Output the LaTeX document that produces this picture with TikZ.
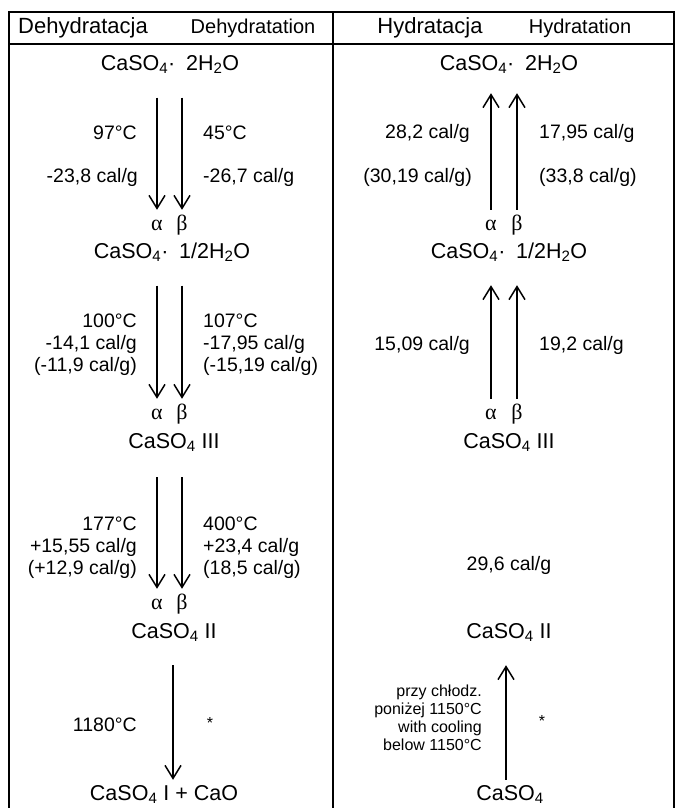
\documentclass[tikz,border=0pt]{standalone}
\usepackage{fontspec}
\setmainfont{Liberation Sans}
\newfontfamily\greekfont{Liberation Serif}
\usepackage{tikz}
\usetikzlibrary{arrows.meta}

\begin{document}
\begin{tikzpicture}[x=1pt, y=-1pt,
    head/.style={inner sep=0pt, font=\fontsize{22}{26}\selectfont},
    subhead/.style={inner sep=0pt, font=\fontsize{20}{24}\selectfont},
    formula/.style={inner sep=0pt, text height=15pt, text depth=4pt, font=\fontsize{21.5}{26}\selectfont},
    lbl/.style={inner sep=0pt, anchor=east, align=right, font=\fontsize{19.5}{22}\selectfont},
    rlbl/.style={inner sep=0pt, anchor=west, align=left, font=\fontsize{19.5}{22}\selectfont},
    note/.style={inner sep=0pt, anchor=east, align=right, font=\fontsize{16}{18}\selectfont},
    phase/.style={inner sep=0pt, text height=9pt, text depth=0pt, font=\fontsize{22}{26}\selectfont\greekfont},
    arrow/.style={-{Straight Barb[length=13pt,width=16pt]}, line width=1.5pt},
    frame/.style={line width=1.4pt}
]
    \useasboundingbox (0,0) rectangle (675,808);
    \draw[frame] (9,808) -- (9,12) -- (674,12) -- (674,808);
    \draw[frame] (9,44) -- (674,44);
    \draw[frame] (333,12) -- (333,808);

    \node[head] (hL1) at (83,28) {Dehydratacja};
    \node[subhead] (hL2) at (253,28) {Dehydratation};
    \node[head] (hR1) at (430,28) {Hydratacja};
    \node[subhead] (hR2) at (580,28) {Hydratation};

    \node[formula] (fL1) at (170,65) {CaSO\textsubscript{4}·\hspace{0.5em}2H\textsubscript{2}O};
    \node[formula] (fL2) at (172,253) {CaSO\textsubscript{4}·\hspace{0.5em}1/2H\textsubscript{2}O};
    \node[formula] (fL3) at (174,443) {CaSO\textsubscript{4} III};
    \node[formula] (fL4) at (174,633) {CaSO\textsubscript{4} II};
    \node[formula] (fL5) at (164,795) {CaSO\textsubscript{4} I + CaO};

    \node[formula] (fR1) at (509,65) {CaSO\textsubscript{4}·\hspace{0.5em}2H\textsubscript{2}O};
    \node[formula] (fR2) at (509,253) {CaSO\textsubscript{4}·\hspace{0.5em}1/2H\textsubscript{2}O};
    \node[formula] (fR3) at (509,443) {CaSO\textsubscript{4} III};
    \node[formula] (fR4) at (509,633) {CaSO\textsubscript{4} II};
    \node[formula] (fR5) at (510,795) {CaSO\textsubscript{4}};

    \node[phase] (aL1) at (157,226) {α};
    \node[phase] (bL1) at (182,226) {β};
    \node[phase] (aL2) at (157,415) {α};
    \node[phase] (bL2) at (182,415) {β};
    \node[phase] (aL3) at (157,605) {α};
    \node[phase] (bL3) at (182,605) {β};
    \node[phase] (aR1) at (491,226) {α};
    \node[phase] (bR1) at (517,226) {β};
    \node[phase] (aR2) at (491,415) {α};
    \node[phase] (bR2) at (517,415) {β};

    \draw[arrow, shorten <=23pt, shorten >=11.5pt] (fL1.south -| aL1) -- (aL1.north);
    \draw[arrow, shorten <=23pt, shorten >=11.5pt] (fL1.south -| bL1) -- (bL1.north);
    \draw[arrow, shorten <=23pt, shorten >=11.5pt] (fL2.south -| aL2) -- (aL2.north);
    \draw[arrow, shorten <=23pt, shorten >=11.5pt] (fL2.south -| bL2) -- (bL2.north);
    \draw[arrow, shorten <=24.5pt, shorten >=11.5pt] (fL3.south -| aL3) -- (aL3.north);
    \draw[arrow, shorten <=24.5pt, shorten >=11.5pt] (fL3.south -| bL3) -- (bL3.north);
    \draw[arrow, shorten <=22.5pt, shorten >=5.5pt] (fL4.south -| 173,0) -- (fL5.north -| 173,0);

    \draw[arrow, shorten <=11.5pt, shorten >=18.5pt] (aR1.north) -- (fR1.south -| aR1);
    \draw[arrow, shorten <=11.5pt, shorten >=18.5pt] (bR1.north) -- (fR1.south -| bR1);
    \draw[arrow, shorten <=11.5pt, shorten >=22.5pt] (aR2.north) -- (fR2.south -| aR2);
    \draw[arrow, shorten <=11.5pt, shorten >=22.5pt] (bR2.north) -- (fR2.south -| bR2);
    \draw[arrow, shorten <=5.5pt, shorten >=22.5pt] (fR5.north -| 506,0) -- (fR4.south -| 506,0);

    \node[lbl] (tL1) at (137,133) {97°C};
    \node[lbl] (qL1) at (138,177) {-23,8 cal/g};
    \node[rlbl] (tL2) at (203,133) {45°C};
    \node[rlbl] (qL2) at (203,177) {-26,7 cal/g};
    \node[lbl] (qL3) at (137,345) {100°C\\-14,1 cal/g\\(-11,9 cal/g)};
    \node[rlbl] (qL4) at (203,345) {107°C\\-17,95 cal/g\\(-15,19 cal/g)};
    \node[lbl] (qL5) at (137,548) {177°C\\+15,55 cal/g\\(+12,9 cal/g)};
    \node[rlbl] (qL6) at (203,548) {400°C\\+23,4 cal/g\\(18,5 cal/g)};
    \node[lbl] (tL7) at (137,725) {1180°C};
    \node[inner sep=0pt, font=\fontsize{16}{18}\selectfont] (sL7) at (210,723) {*};

    \node[lbl] (qR1) at (470,133) {28,2 cal/g};
    \node[lbl] (qR2) at (472,177) {(30,19 cal/g)};
    \node[rlbl] (qR3) at (539,133) {17,95 cal/g};
    \node[rlbl] (qR4) at (539,177) {(33,8 cal/g)};
    \node[lbl] (qR5) at (470,345) {15,09 cal/g};
    \node[rlbl] (qR6) at (539,345) {19,2 cal/g};
    \node[inner sep=0pt, font=\fontsize{19.5}{22}\selectfont] (qR7) at (509,565) {29,6 cal/g};
    \node[note] (nR8) at (482,718) {przy chłodz.\\poniżej 1150°C\\with cooling\\below 1150°C};
    \node[inner sep=0pt, font=\fontsize{16}{18}\selectfont] (sR8) at (542,721) {*};
\end{tikzpicture}
\end{document}
